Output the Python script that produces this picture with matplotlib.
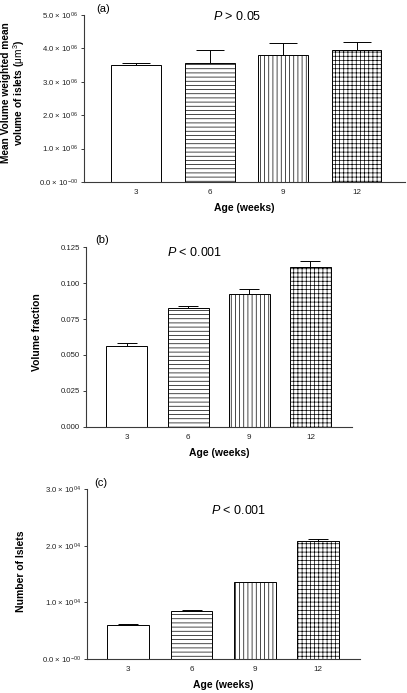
import numpy as np
import matplotlib
matplotlib.use('Agg')
import matplotlib.pyplot as plt
from matplotlib.ticker import FuncFormatter

plt.rcParams['font.family'] = 'Liberation Sans'
plt.rcParams['mathtext.fontset'] = 'custom'
plt.rcParams['mathtext.rm'] = 'Liberation Sans'
plt.rcParams['mathtext.it'] = 'Liberation Sans:italic'
plt.rcParams['mathtext.bf'] = 'Liberation Sans:bold'
plt.rcParams['hatch.linewidth'] = 0.5

ages = ['3', '6', '9', '12']
hatches = ['', '----', '||||', '++++']

vol_mean = [3.50e6, 3.55e6, 3.80e6, 3.96e6]
vol_err = [0.05e6, 0.40e6, 0.35e6, 0.22e6]

frac_mean = [0.0565, 0.083, 0.0923, 0.111]
frac_err = [0.0021, 0.0014, 0.0037, 0.0043]

islet_mean = [6030, 8510, 13550, 20870]
islet_err = [70, 90, 90, 330]


def sci(expo):
    def f(v, pos):
        if v == 0:
            return r'0.0 $\times$ 10$^{-00}$'
        return r'%.1f $\times$ 10$^{%s}$' % (v / 10**int(expo), expo)
    return f


axcol = '#3a3a3a'
fig = plt.figure(figsize=(4.07, 6.93), dpi=100)

# (rect, xlim, bar width, cap half-length in pt)
panels = [
    ([0.2064, 0.7374, 0.7887, 0.2410], (-0.71, 3.66), 0.68, 10.4),
    ([0.2113, 0.3843, 0.6536, 0.2588], (-0.67, 3.68), 0.67, 7.2),
    ([0.2138, 0.0495, 0.6708, 0.2444], (-0.65, 3.66), 0.66, 7.4),
]
means = [vol_mean, frac_mean, islet_mean]
errs = [vol_err, frac_err, islet_err]

axes = []
for (rect, xl, bw, cs), m, e in zip(panels, means, errs):
    ax = fig.add_axes(rect)
    x = np.arange(len(ages))
    for i in range(len(ages)):
        ax.bar(x[i], m[i], width=bw, color='white', edgecolor='black',
               linewidth=0.7, hatch=hatches[i], zorder=2)
    ax.errorbar(x, m, yerr=[np.zeros(len(e)), e], fmt='none', ecolor='black',
                elinewidth=0.7, capsize=cs, capthick=0.7, zorder=1)
    ax.set_xlim(*xl)
    ax.set_xticks(x)
    ax.set_xticklabels(ages)
    for s in ['top', 'right']:
        ax.spines[s].set_visible(False)
    for s in ['left', 'bottom']:
        ax.spines[s].set_color(axcol)
        ax.spines[s].set_linewidth(0.8)
    ax.tick_params(axis='x', length=0, pad=5, labelsize=5.8, colors='#222222')
    ax.tick_params(axis='y', length=2.2, width=0.7, pad=2, labelsize=5.6,
                   colors='#222222', color=axcol)
    ax.set_xlabel('Age (weeks)', fontsize=7.5, fontweight='bold', labelpad=5)
    axes.append(ax)

ax1, ax2, ax3 = axes

ax1.set_ylim(0, 5e6)
ax1.set_yticks(np.arange(0, 5.01e6, 1e6))
ax1.yaxis.set_major_formatter(FuncFormatter(sci('06')))
ax1.set_ylabel('Mean Volume weighted mean\nvolume of islets ($\\mathrm{\\mu m^3}$)',
               fontsize=7.3, fontweight='bold', va='center', linespacing=1.05)
ax1.yaxis.set_label_coords(-0.218, 0.535)

ax2.set_ylim(0, 0.125)
ax2.set_yticks(np.arange(0, 0.1251, 0.025))
ax2.yaxis.set_major_formatter(FuncFormatter(lambda v, p: '%.3f' % v))
ax2.set_ylabel('Volume fraction', fontsize=7.5, fontweight='bold', va='center')
ax2.yaxis.set_label_coords(-0.184, 0.53)

ax3.set_ylim(0, 3e4)
ax3.set_yticks(np.arange(0, 3.01e4, 1e4))
ax3.yaxis.set_major_formatter(FuncFormatter(sci('04')))
ax3.set_ylabel('Number of Islets', fontsize=7.5, fontweight='bold', va='center')
ax3.yaxis.set_label_coords(-0.242, 0.514)

fig.text(96 / 407, 1 - 9 / 693, '(a)', fontsize=8, va='center')
fig.text(95 / 407, 1 - 240 / 693, '(b)', fontsize=8, va='center')
fig.text(94 / 407, 1 - 483 / 693, '(c)', fontsize=8, va='center')

fig.text(213 / 407, 1 - 16 / 693, r'$P$ > 0.05', fontsize=9, va='center')
fig.text(167 / 407, 1 - 253 / 693, r'$P$ < 0.001', fontsize=9, va='center')
fig.text(211 / 407, 1 - 511 / 693, r'$P$ < 0.001', fontsize=9, va='center')

fig.savefig('out.png', dpi=100)
